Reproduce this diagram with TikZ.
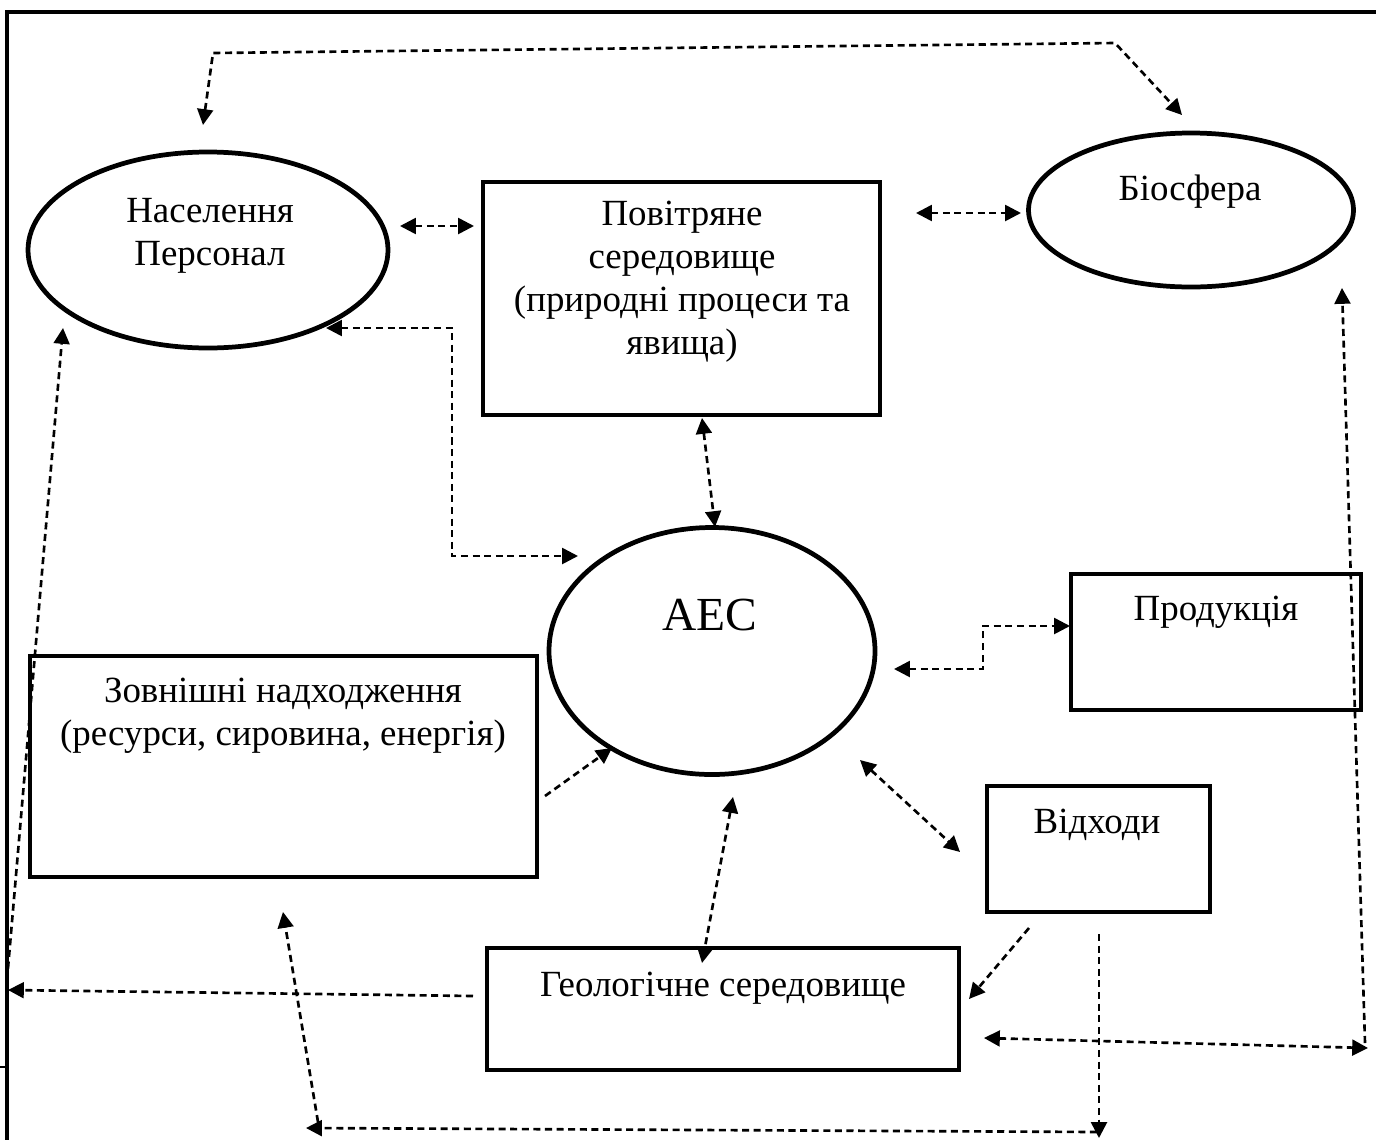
\documentclass[tikz,border=0pt]{standalone}
\usepackage{fontspec}
\setmainfont{Liberation Serif}
\usetikzlibrary{arrows.meta,shapes.geometric}
\begin{document}
\begin{tikzpicture}[x=0.02cm,y=-0.02cm,
  shapeline/.style={draw, line width=2.7pt},
  ell/.style={shapeline, ellipse, inner sep=0pt},
  box/.style={shapeline, rectangle, inner sep=0pt},
  lbl/.style={font=\fontsize{21}{24.4}\selectfont, align=center, inner sep=0pt},
  biglbl/.style={font=\fontsize{27}{32}\selectfont, inner sep=0pt},
  conn/.style={line width=1.5pt, dash pattern=on 4pt off 2.6pt},
  one/.style={conn, -{Triangle[length=9pt,width=9pt]}},
  both/.style={conn, {Triangle[length=9pt,width=9pt]}-{Triangle[length=9pt,width=9pt]}},
  frame/.style={line width=2.3pt}
]
\useasboundingbox (0,0) rectangle (1376,1140);
% frame
\draw[frame] (5,12) -- (1376,12);
\draw[frame] (7,12) -- (7,1140);
\draw[line width=1.5pt] (0,1067) -- (7,1067);

% shapes
\node[ell, minimum width=360*0.02cm, minimum height=196*0.02cm] (nas) at (208,250) {};
\node[box, minimum width=397*0.02cm, minimum height=233*0.02cm] (pov) at (681.5,298.5) {};
\node[ell, minimum width=325*0.02cm, minimum height=154*0.02cm] (bio) at (1191,210) {};
\node[ell, minimum width=326*0.02cm, minimum height=247*0.02cm] (aes) at (712,651) {};
\node[box, minimum width=290*0.02cm, minimum height=136*0.02cm] (prod) at (1216,642) {};
\node[box, minimum width=507*0.02cm, minimum height=221*0.02cm] (zovn) at (283.5,766.5) {};
\node[box, minimum width=223*0.02cm, minimum height=126*0.02cm] (vidh) at (1098.5,849) {};
\node[box, minimum width=472*0.02cm, minimum height=122*0.02cm] (geol) at (723,1009) {};

% labels
\node[lbl] (tnas) at (210,236) {Населення\\Персонал};
\node[lbl] (tpov) at (682,282) {Повітряне\\середовище\\(природні процеси та\\явища)};
\node[lbl, anchor=base] (tbio) at (1190,200) {Біосфера};
\node[biglbl, anchor=base] (taes) at (710,630) {АЕС};
\node[lbl, anchor=base] (tprod) at (1216,620) {Продукція};
\node[lbl] (tzovn) at (283,716) {Зовнішні надходження\\(ресурси, сировина, енергія)};
\node[lbl, anchor=base] (tvidh) at (1097,833) {Відходи};
\node[lbl, anchor=base] (tgeol) at (723,996) {Геологічне середовище};

% connector end points
\coordinate (a1) at (203,125); \coordinate (a1k) at (213,53);
\coordinate (a1m) at (1115,43); \coordinate (a1e) at (1182,115);
\coordinate (a2) at (400,226); \coordinate (a2e) at (474,226);
\coordinate (a3) at (916,213); \coordinate (a3e) at (1021,213);
\coordinate (a4) at (326,328); \coordinate (a4k) at (452,328);
\coordinate (a4m) at (452,556); \coordinate (a4e) at (578,556);
\coordinate (a5) at (702,418); \coordinate (a5e) at (715,527);
\coordinate (a6) at (894,669); \coordinate (a6k) at (983,669);
\coordinate (a6m) at (983,626); \coordinate (a6e) at (1070,626);
\coordinate (a7) at (860,760); \coordinate (a7e) at (960,852);
\coordinate (a8) at (545,796); \coordinate (a8e) at (612,748);
\coordinate (a9) at (733,797); \coordinate (a9e) at (702,963);
\coordinate (a10) at (1029,928); \coordinate (a10e) at (969,999);
\coordinate (a11) at (1099,934); \coordinate (a11e) at (1099,1138);
\coordinate (a12) at (1097,1132); \coordinate (a12e) at (306,1128);
\coordinate (a13) at (318,1122); \coordinate (a13e) at (283,912);
\coordinate (a14) at (473,996); \coordinate (a14e) at (8,990);
\coordinate (a15) at (7,980); \coordinate (a15e) at (63,328);
\coordinate (a16) at (1365,1043); \coordinate (a16e) at (1342,288);
\coordinate (a17) at (984,1038); \coordinate (a17e) at (1368,1048);

% connectors
\draw[both] (a1) -- (a1k) -- (a1m) -- (a1e);
\draw[both] (a2) -- (a2e);
\draw[both] (a3) -- (a3e);
\draw[both] (a4) -- (a4k) -- (a4m) -- (a4e);
\draw[both] (a5) -- (a5e);
\draw[both] (a6) -- (a6k) -- (a6m) -- (a6e);
\draw[both] (a7) -- (a7e);
\draw[one] (a8) -- (a8e);
\draw[both] (a9) -- (a9e);
\draw[one] (a10) -- (a10e);
\draw[one] (a11) -- (a11e);
\draw[one] (a12) -- (a12e);
\draw[one] (a13) -- (a13e);
\draw[one] (a14) -- (a14e);
\draw[one] (a15) -- (a15e);
\draw[one] (a16) -- (a16e);
\draw[both] (a17) -- (a17e);
\end{tikzpicture}
\end{document}
